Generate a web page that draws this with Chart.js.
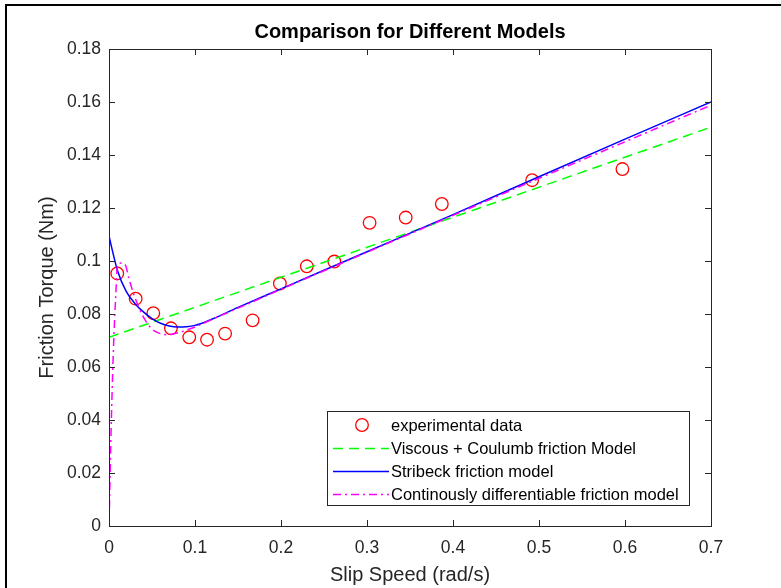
<!DOCTYPE html>
<html>
<head>
<meta charset="utf-8">
<script src="https://cdn.jsdelivr.net/npm/chart.js@4.4.1/dist/chart.umd.min.js"></script>
<style>
  html, body { margin: 0; padding: 0; background: #fff; }
  #wrap { position: relative; width: 781px; height: 588px; overflow: hidden; }
  #frame { position: absolute; left: 5px; top: 4px; width: 900px; height: 700px; border-left: 2px solid #000; border-top: 2px solid #000; pointer-events: none; }
  canvas { position: absolute; left: 0; top: 0; }
</style>
</head>
<body>
<div id="wrap">
  <canvas id="c" width="781" height="588"></canvas>
  <div id="frame"></div>
</div>
<script>
// measured points
const expSpeed  = [0.0096, 0.031, 0.0515, 0.072, 0.0933, 0.114, 0.135, 0.167, 0.1987, 0.230, 0.262, 0.303, 0.345, 0.387, 0.492, 0.597];
const expTorque = [0.0953, 0.0858, 0.0803, 0.0746, 0.0712, 0.0703, 0.0726, 0.0776, 0.0915, 0.0980, 0.0998, 0.1144, 0.1164, 0.1215, 0.1305, 0.1347];

// viscous + coulomb (straight line)
const vcSpeed  = [0, 0.7];
const vcTorque = [0.0712, 0.1505];

// stribeck curve
const stribeckSpeed  = [0, 0.005, 0.01, 0.02, 0.03, 0.04, 0.05, 0.06, 0.07, 0.08, 0.09, 0.10, 0.12, 0.15, 0.2, 0.3, 0.4, 0.5, 0.6, 0.7];
const stribeckTorque = [0.1095, 0.1025, 0.0962, 0.0885, 0.0840, 0.0808, 0.0783, 0.0765, 0.0755, 0.0751, 0.0752, 0.0757, 0.0781, 0.0825, 0.0895, 0.1035, 0.1175, 0.1318, 0.1460, 0.1600];

// continuously differentiable model
const contSpeed  = [0, 0.002, 0.004, 0.006, 0.008, 0.0095, 0.011, 0.015, 0.019, 0.023, 0.029, 0.035, 0.043, 0.050, 0.058, 0.068, 0.079, 0.091, 0.105, 0.12, 0.15, 0.2, 0.3, 0.4, 0.5, 0.6, 0.7];
const contTorque = [0, 0.030, 0.055, 0.074, 0.088, 0.0975, 0.0990, 0.0992, 0.0985, 0.0936, 0.0873, 0.0822, 0.0772, 0.0743, 0.0728, 0.0722, 0.0728, 0.0740, 0.0758, 0.0780, 0.0822, 0.0893, 0.1033, 0.1172, 0.1312, 0.1450, 0.1588];

const xTicks = [0, 0.1, 0.2, 0.3, 0.4, 0.5, 0.6, 0.7];
const yTicks = [0, 0.02, 0.04, 0.06, 0.08, 0.1, 0.12, 0.14, 0.16, 0.18];
const seriesNames = ['experimental data', 'Viscous + Coulumb friction Model', 'Stribeck friction model', 'Continously differentiable friction model'];

const FONT = "'Liberation Sans', Arial, sans-serif";
const AXIS_COLOR = '#262626';

const toXY = (xs, ys) => xs.map((v, i) => ({ x: v, y: ys[i] }));
const fmt = v => String(Number(v.toFixed(2)));

// box, inward ticks, title and legend (matlab style)
const matlabAxes = {
  id: 'matlabAxes',
  afterDraw(chart) {
    const { ctx, chartArea: a, scales: { x, y } } = chart;
    ctx.save();
    ctx.strokeStyle = AXIS_COLOR;
    ctx.lineWidth = 1;
    ctx.strokeRect(a.left + 0.5, a.top + 0.5, a.right - a.left, a.bottom - a.top);
    ctx.beginPath();
    xTicks.forEach(v => {
      const px = Math.round(x.getPixelForValue(v)) + 0.5;
      ctx.moveTo(px, a.bottom); ctx.lineTo(px, a.bottom - 6);
      ctx.moveTo(px, a.top); ctx.lineTo(px, a.top + 6);
    });
    yTicks.forEach(v => {
      const py = Math.round(y.getPixelForValue(v)) + 0.5;
      ctx.moveTo(a.left, py); ctx.lineTo(a.left + 6, py);
      ctx.moveTo(a.right, py); ctx.lineTo(a.right - 6, py);
    });
    ctx.stroke();

    // title
    ctx.fillStyle = '#000';
    ctx.font = 'bold 20px ' + FONT;
    ctx.textAlign = 'center';
    ctx.textBaseline = 'middle';
    ctx.fillText('Comparison for Different Models', (a.left + a.right) / 2, 32);

    // legend
    const lx = 327.5, ly = 411.5, lw = 362, lh = 94;
    ctx.fillStyle = '#fff';
    ctx.fillRect(lx, ly, lw, lh);
    ctx.strokeStyle = AXIS_COLOR;
    ctx.strokeRect(lx, ly, lw, lh);
    const rows = [425, 448, 471, 494];
    ctx.font = '16.5px ' + FONT;
    ctx.textAlign = 'left';
    chart.data.datasets.forEach((ds, i) => {
      const ry = rows[i];
      if (i === 0) {
        ctx.strokeStyle = ds.borderColor;
        ctx.lineWidth = 1.3;
        ctx.beginPath();
        ctx.arc(362, ry, ds.pointRadius, 0, Math.PI * 2);
        ctx.stroke();
      } else {
        ctx.strokeStyle = ds.borderColor;
        ctx.lineWidth = ds.borderWidth;
        ctx.setLineDash(ds.borderDash || []);
        ctx.beginPath();
        ctx.moveTo(333, ry + 0.5); ctx.lineTo(389, ry + 0.5);
        ctx.stroke();
        ctx.setLineDash([]);
      }
      ctx.fillStyle = '#000';
      ctx.fillText(seriesNames[i], 391, ry + 1);
    });
    ctx.restore();
  }
};

new Chart(document.getElementById('c'), {
  type: 'scatter',
  data: {
    datasets: [
      {
        label: seriesNames[0],
        data: toXY(expSpeed, expTorque),
        borderColor: '#ff0000',
        backgroundColor: 'rgba(0,0,0,0)',
        borderWidth: 1.3,
        pointRadius: 6.3,
        pointStyle: 'circle',
        showLine: false,
        order: 4
      },
      {
        label: seriesNames[1],
        data: toXY(vcSpeed, vcTorque),
        borderColor: '#00ff00',
        borderWidth: 1.5,
        borderDash: [10, 6],
        pointRadius: 0,
        showLine: true,
        order: 3
      },
      {
        label: seriesNames[2],
        data: toXY(stribeckSpeed, stribeckTorque),
        borderColor: '#0000ff',
        borderWidth: 1.5,
        pointRadius: 0,
        showLine: true,
        cubicInterpolationMode: 'monotone',
        order: 2
      },
      {
        label: seriesNames[3],
        data: toXY(contSpeed, contTorque),
        borderColor: '#ff00ff',
        borderWidth: 1.5,
        borderDash: [8, 4, 2, 4],
        pointRadius: 0,
        showLine: true,
        cubicInterpolationMode: 'monotone',
        order: 1
      }
    ]
  },
  options: {
    responsive: false,
    animation: false,
    devicePixelRatio: 1,
    layout: { padding: { top: 49, right: 70, left: 0, bottom: 0 } },
    plugins: { legend: { display: false }, tooltip: { enabled: false }, title: { display: false } },
    scales: {
      x: {
        type: 'linear',
        min: 0, max: 0.7,
        afterBuildTicks: s => { s.ticks = xTicks.map(v => ({ value: v })); },
        afterFit: s => { s.height = 62; },
        grid: { display: false, drawTicks: false },
        border: { display: false },
        ticks: { color: AXIS_COLOR, font: { family: FONT, size: 17.5 }, padding: 12, maxRotation: 0, callback: v => fmt(v) },
        title: { display: true, text: 'Slip Speed (rad/s)', color: AXIS_COLOR, font: { family: FONT, size: 20 }, padding: { top: 0, bottom: 1 } }
      },
      y: {
        type: 'linear',
        min: 0, max: 0.18,
        afterBuildTicks: s => { s.ticks = yTicks.map(v => ({ value: v })); },
        afterFit: s => { s.width = 109; },
        grid: { display: false, drawTicks: false },
        border: { display: false },
        ticks: { color: AXIS_COLOR, font: { family: FONT, size: 17.5 }, padding: 8, callback: v => fmt(v) },
        title: { display: true, text: 'Friction Torque (Nm)', color: AXIS_COLOR, font: { family: FONT, size: 20 }, padding: { top: 35, bottom: 0 } }
      }
    }
  },
  plugins: [matlabAxes]
});
</script>
</body>
</html>
